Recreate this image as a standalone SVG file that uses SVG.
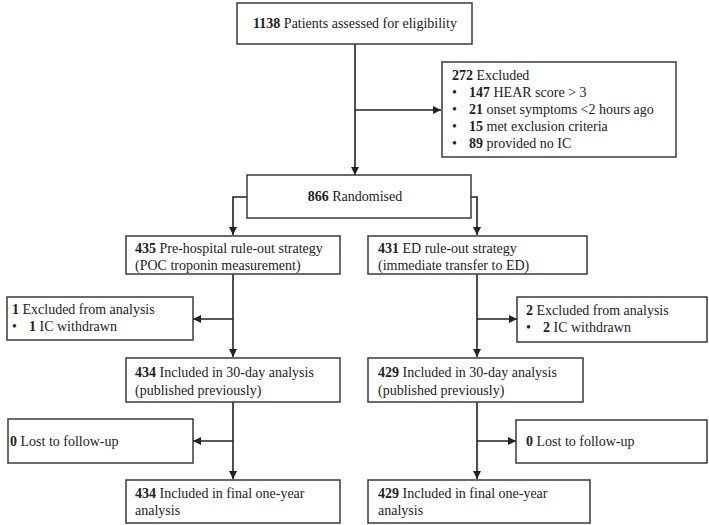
<svg xmlns="http://www.w3.org/2000/svg" width="709" height="525" viewBox="0 0 709 525">
<defs>
<style>
.box{fill:#fff;stroke:#3a3a3a;stroke-width:1.5}
.t{font-family:"Liberation Serif","Times New Roman",serif;font-size:14px;fill:#222}
.b{font-weight:bold}
.c{fill:none;stroke:#222;stroke-width:1.6}
</style>
<marker id="ah" viewBox="0 0 10 10" refX="10" refY="5" markerWidth="8" markerHeight="8" markerUnits="userSpaceOnUse" orient="auto">
<path d="M0,0 L10,5 L0,10 z" fill="#222"/>
</marker>
</defs>
<rect width="709" height="525" fill="#fff"/>
<g id="connectors">
<path class="c" d="M355,44 V175" marker-end="url(#ah)"/>
<path class="c" d="M355,110 H441" marker-end="url(#ah)"/>
<path class="c" d="M247,197 H233 V235" marker-end="url(#ah)"/>
<path class="c" d="M471,197 H477 V235" marker-end="url(#ah)"/>
<path class="c" d="M233,274 V357" marker-end="url(#ah)"/>
<path class="c" d="M233,319 H193" marker-end="url(#ah)"/>
<path class="c" d="M233,402 V479" marker-end="url(#ah)"/>
<path class="c" d="M233,441 H193" marker-end="url(#ah)"/>
<path class="c" d="M477,274 V357" marker-end="url(#ah)"/>
<path class="c" d="M477,319 H517" marker-end="url(#ah)"/>
<path class="c" d="M477,402 V479" marker-end="url(#ah)"/>
<path class="c" d="M477,441 H516" marker-end="url(#ah)"/>
</g>
<g id="assessed">
<rect class="box" x="237" y="3" width="235" height="41"/>
<text class="t" x="355" y="28" text-anchor="middle"><tspan class="b">1138</tspan> Patients assessed for eligibility</text>
</g>
<g id="excluded">
<rect class="box" x="442" y="62" width="234" height="95"/>
<text class="t" x="452" y="80"><tspan class="b">272</tspan> Excluded</text>
<text class="t" x="452" y="97">•</text><text class="t" x="469" y="97"><tspan class="b">147</tspan> HEAR score &gt; 3</text>
<text class="t" x="452" y="114">•</text><text class="t" x="469" y="114"><tspan class="b">21</tspan> onset symptoms &lt;2 hours ago</text>
<text class="t" x="452" y="131">•</text><text class="t" x="469" y="131"><tspan class="b">15</tspan> met exclusion criteria</text>
<text class="t" x="452" y="148">•</text><text class="t" x="469" y="148"><tspan class="b">89</tspan> provided no IC</text>
</g>
<g id="randomised">
<rect class="box" x="247" y="175" width="224" height="43"/>
<text class="t" x="355" y="201" text-anchor="middle"><tspan class="b">866</tspan> Randomised</text>
</g>
<g id="prehospital">
<rect class="box" x="126" y="236" width="214" height="38"/>
<text class="t" x="135" y="253"><tspan class="b">435</tspan> Pre-hospital rule-out strategy</text>
<text class="t" x="135" y="270">(POC troponin measurement)</text>
</g>
<g id="ed">
<rect class="box" x="368" y="236" width="219" height="38"/>
<text class="t" x="378" y="253"><tspan class="b">431</tspan> ED rule-out strategy</text>
<text class="t" x="378" y="270">(immediate transfer to ED)</text>
</g>
<g id="excl-left">
<rect class="box" x="7" y="297" width="186" height="43"/>
<text class="t" x="12" y="314"><tspan class="b">1</tspan> Excluded from analysis</text>
<text class="t" x="12" y="331">•</text><text class="t" x="29" y="331"><tspan class="b">1</tspan> IC withdrawn</text>
</g>
<g id="excl-right">
<rect class="box" x="517" y="297" width="190" height="45"/>
<text class="t" x="526" y="315"><tspan class="b">2</tspan> Excluded from analysis</text>
<text class="t" x="526" y="332">•</text><text class="t" x="543" y="332"><tspan class="b">2</tspan> IC withdrawn</text>
</g>
<g id="day30-left">
<rect class="box" x="126" y="358" width="214" height="44"/>
<text class="t" x="135" y="377"><tspan class="b">434</tspan> Included in 30-day analysis</text>
<text class="t" x="135" y="395">(published previously)</text>
</g>
<g id="day30-right">
<rect class="box" x="368" y="358" width="215" height="44"/>
<text class="t" x="378" y="377"><tspan class="b">429</tspan> Included in 30-day analysis</text>
<text class="t" x="378" y="395">(published previously)</text>
</g>
<g id="lost-left">
<rect class="box" x="8" y="419" width="185" height="44"/>
<text class="t" x="10" y="446"><tspan class="b">0</tspan> Lost to follow-up</text>
</g>
<g id="lost-right">
<rect class="box" x="516" y="420" width="191" height="43"/>
<text class="t" x="526" y="446"><tspan class="b">0</tspan> Lost to follow-up</text>
</g>
<g id="final-left">
<rect class="box" x="126" y="480" width="214" height="43"/>
<text class="t" x="135" y="498"><tspan class="b">434</tspan> Included in final one-year</text>
<text class="t" x="135" y="515">analysis</text>
</g>
<g id="final-right">
<rect class="box" x="368" y="480" width="222" height="43"/>
<text class="t" x="378" y="498"><tspan class="b">429</tspan> Included in final one-year</text>
<text class="t" x="378" y="515">analysis</text>
</g>
</svg>
